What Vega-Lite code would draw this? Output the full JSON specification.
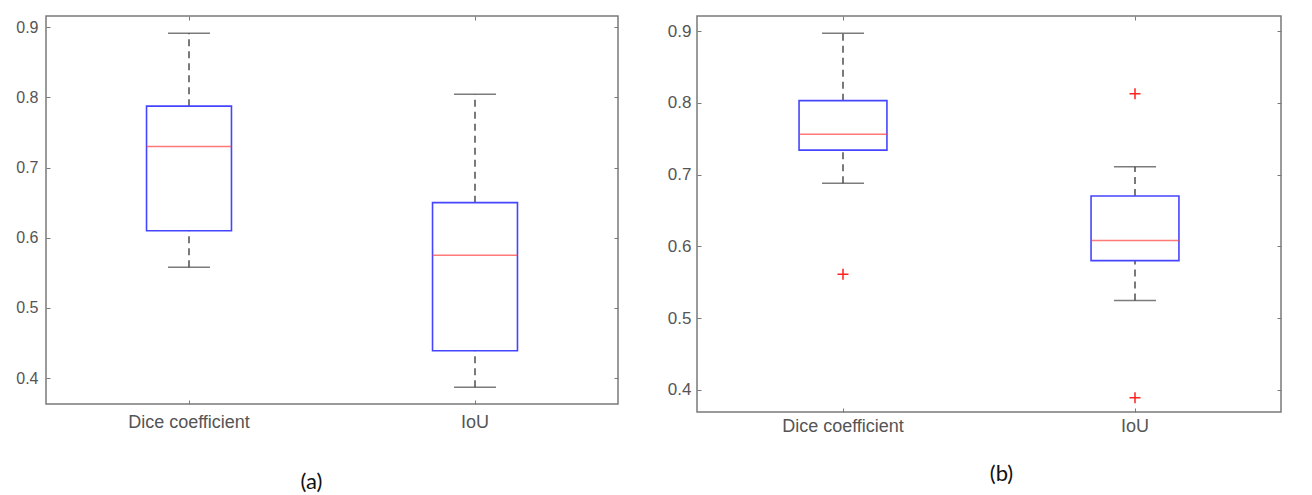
{
  "$schema": "https://vega.github.io/schema/vega-lite/v6.json",
  "background": "white",
  "padding": {"left": 5, "top": 14, "right": 10, "bottom": 0},
  "spacing": 36,
  "config": {
    "view": {"stroke": "#7a7a7a", "strokeWidth": 1.5},
    "axis": {"labelFont": "Liberation Sans", "labelColor": "#555555", "tickColor": "#7a7a7a", "domain": false, "grid": false, "tickSize": -4, "tickWidth": 1}
  },
  "datasets": {
    "stats": [
      {"panel": "a", "metric": "Dice coefficient", "lower": 0.558, "q1": 0.610, "median": 0.730, "q3": 0.7875, "upper": 0.8915},
      {"panel": "a", "metric": "IoU", "lower": 0.387, "q1": 0.439, "median": 0.575, "q3": 0.650, "upper": 0.8046},
      {"panel": "b", "metric": "Dice coefficient", "lower": 0.688, "q1": 0.734, "median": 0.756, "q3": 0.803, "upper": 0.897},
      {"panel": "b", "metric": "IoU", "lower": 0.5245, "q1": 0.580, "median": 0.608, "q3": 0.670, "upper": 0.711}
    ],
    "outliers": [
      {"panel": "b", "metric": "Dice coefficient", "value": 0.561},
      {"panel": "b", "metric": "IoU", "value": 0.8125},
      {"panel": "b", "metric": "IoU", "value": 0.389}
    ]
  },
  "hconcat": [
    {
      "width": 572, "height": 388,
      "data": {"name": "stats"},
      "transform": [{"filter": "datum.panel == 'a'"}],
      "resolve": {"axis": {"x": "independent", "y": "independent"}},
      "layer": [
        {
          "mark": {"type": "rule", "strokeDash": [7, 5], "color": "#333333", "strokeWidth": 1.3},
          "encoding": {
            "x": {"field": "metric", "type": "nominal", "scale": {"type": "band", "domain": ["Dice coefficient", "IoU"], "paddingInner": 0, "paddingOuter": 0},
              "axis": {"orient": "bottom", "labelAngle": 0, "labelFontSize": 18, "labelPadding": 13, "title": "(a)", "titleFont": "Lato", "titleFontSize": 22, "titleFontWeight": "normal", "titleColor": "#111111", "titleX": 265, "titleY": 77, "titleBaseline": "middle", "titleAlign": "center"}},
            "y": {"field": "q3", "type": "quantitative", "scale": {"domain": [0.363, 0.916], "nice": false, "zero": false},
              "axis": {"orient": "left", "values": [0.4, 0.5, 0.6, 0.7, 0.8, 0.9], "format": ".1f", "labelFontSize": 16, "labelPadding": 12, "title": null, "minExtent": 40, "maxExtent": 40}},
            "y2": {"field": "upper"}
          }
        },
        {
          "mark": {"type": "rule", "strokeDash": [7, 5], "color": "#333333", "strokeWidth": 1.3},
          "encoding": {
            "x": {"field": "metric", "type": "nominal", "scale": {"type": "band"}, "axis": null},
            "y": {"field": "lower", "type": "quantitative", "axis": null},
            "y2": {"field": "q1"}
          }
        },
        {
          "mark": {"type": "tick", "color": "#444444", "size": 42, "thickness": 1.5},
          "encoding": {
            "x": {"field": "metric", "type": "nominal", "scale": {"type": "band"}, "axis": null},
            "y": {"field": "upper", "type": "quantitative", "axis": null}
          }
        },
        {
          "mark": {"type": "tick", "color": "#444444", "size": 42, "thickness": 1.5},
          "encoding": {
            "x": {"field": "metric", "type": "nominal", "scale": {"type": "band"}, "axis": null},
            "y": {"field": "lower", "type": "quantitative", "axis": null}
          }
        },
        {
          "mark": {"type": "bar", "fill": "white", "fillOpacity": 0, "stroke": "#4545ff", "strokeWidth": 1.6, "width": {"band": 0.297}},
          "encoding": {
            "x": {"field": "metric", "type": "nominal", "scale": {"type": "band"}, "axis": null},
            "y": {"field": "q1", "type": "quantitative", "axis": null},
            "y2": {"field": "q3"}
          }
        },
        {
          "mark": {"type": "tick", "color": "#ff4040", "size": 85, "thickness": 1.5},
          "encoding": {
            "x": {"field": "metric", "type": "nominal", "scale": {"type": "band"}, "axis": null},
            "y": {"field": "median", "type": "quantitative", "axis": null}
          }
        },
        {
          "mark": {"type": "rule", "opacity": 0},
          "encoding": {
            "x": {"field": "metric", "type": "nominal", "scale": {"type": "band"}, "axis": {"orient": "top", "labels": false, "title": null, "minExtent": 0, "maxExtent": 0}},
            "y": {"field": "median", "type": "quantitative", "axis": {"orient": "right", "values": [0.4, 0.5, 0.6, 0.7, 0.8, 0.9], "labels": false, "title": null, "minExtent": 0, "maxExtent": 0}}
          }
        }
      ]
    },
    {
      "width": 584, "height": 396,
      "data": {"name": "stats"},
      "transform": [{"filter": "datum.panel == 'b'"}],
      "resolve": {"axis": {"x": "independent", "y": "independent"}},
      "layer": [
        {
          "mark": {"type": "rule", "strokeDash": [7, 5], "color": "#333333", "strokeWidth": 1.3},
          "encoding": {
            "x": {"field": "metric", "type": "nominal", "scale": {"type": "band", "domain": ["Dice coefficient", "IoU"], "paddingInner": 0, "paddingOuter": 0},
              "axis": {"orient": "bottom", "labelAngle": 0, "labelFontSize": 18, "labelPadding": 9, "title": "(b)", "titleFont": "Lato", "titleFontSize": 22, "titleFontWeight": "normal", "titleColor": "#111111", "titleX": 304, "titleY": 61, "titleBaseline": "middle", "titleAlign": "center"}},
            "y": {"field": "q3", "type": "quantitative", "scale": {"domain": [0.369, 0.921], "nice": false, "zero": false},
              "axis": {"orient": "left", "values": [0.4, 0.5, 0.6, 0.7, 0.8, 0.9], "format": ".1f", "labelFontSize": 17, "labelPadding": 10, "title": null, "minExtent": 40, "maxExtent": 40}},
            "y2": {"field": "upper"}
          }
        },
        {
          "mark": {"type": "rule", "strokeDash": [7, 5], "color": "#333333", "strokeWidth": 1.3},
          "encoding": {
            "x": {"field": "metric", "type": "nominal", "scale": {"type": "band"}, "axis": null},
            "y": {"field": "lower", "type": "quantitative", "axis": null},
            "y2": {"field": "q1"}
          }
        },
        {
          "mark": {"type": "tick", "color": "#444444", "size": 42, "thickness": 1.5},
          "encoding": {
            "x": {"field": "metric", "type": "nominal", "scale": {"type": "band"}, "axis": null},
            "y": {"field": "upper", "type": "quantitative", "axis": null}
          }
        },
        {
          "mark": {"type": "tick", "color": "#444444", "size": 42, "thickness": 1.5},
          "encoding": {
            "x": {"field": "metric", "type": "nominal", "scale": {"type": "band"}, "axis": null},
            "y": {"field": "lower", "type": "quantitative", "axis": null}
          }
        },
        {
          "mark": {"type": "bar", "fill": "white", "fillOpacity": 0, "stroke": "#4545ff", "strokeWidth": 1.6, "width": {"band": 0.301}},
          "encoding": {
            "x": {"field": "metric", "type": "nominal", "scale": {"type": "band"}, "axis": null},
            "y": {"field": "q1", "type": "quantitative", "axis": null},
            "y2": {"field": "q3"}
          }
        },
        {
          "mark": {"type": "tick", "color": "#ff4040", "size": 88, "thickness": 1.5},
          "encoding": {
            "x": {"field": "metric", "type": "nominal", "scale": {"type": "band"}, "axis": null},
            "y": {"field": "median", "type": "quantitative", "axis": null}
          }
        },
        {
          "data": {"name": "outliers"},
          "transform": [{"filter": "datum.panel == 'b'"}],
          "mark": {"type": "point", "shape": "M-1,0L1,0M0,-1L0,1", "filled": false, "stroke": "#ff2020", "strokeWidth": 1.5, "size": 121, "opacity": 1},
          "encoding": {
            "x": {"field": "metric", "type": "nominal", "scale": {"type": "band"}, "axis": null},
            "y": {"field": "value", "type": "quantitative", "axis": null}
          }
        },
        {
          "mark": {"type": "rule", "opacity": 0},
          "encoding": {
            "x": {"field": "metric", "type": "nominal", "scale": {"type": "band"}, "axis": {"orient": "top", "labels": false, "title": null, "minExtent": 0, "maxExtent": 0}},
            "y": {"field": "median", "type": "quantitative", "axis": {"orient": "right", "values": [0.4, 0.5, 0.6, 0.7, 0.8, 0.9], "labels": false, "title": null, "minExtent": 0, "maxExtent": 0}}
          }
        }
      ]
    }
  ]
}
